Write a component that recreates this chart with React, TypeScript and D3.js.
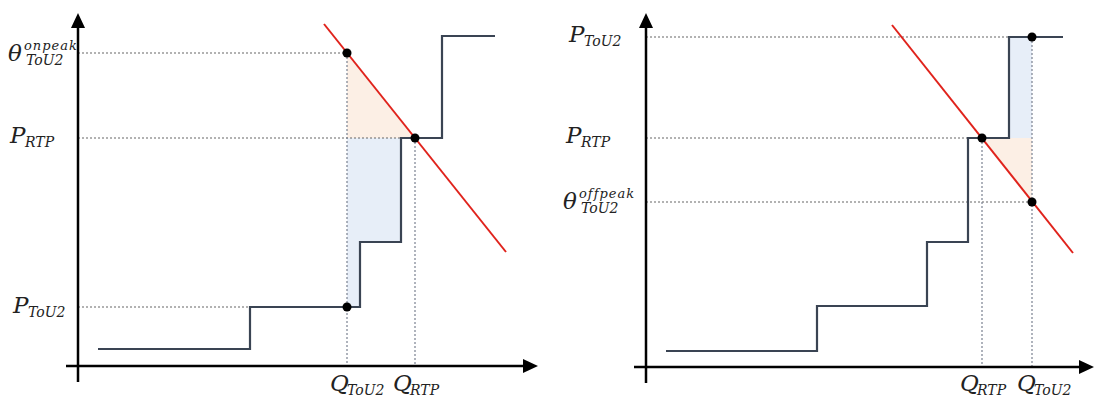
import React from "react";
import * as d3 from "d3";

// left panel (on-peak case), values in chart units
const leftStepQ = [2.0, 17.2, 28.2, 32.3, 36.4, 41.7];
const leftStepP = [1.7, 5.9, 12.4, 22.8, 33.0, 33.0];
const leftQ = { tou: 26.9, rtp: 33.7 };
const leftP = { tou: 5.9, rtp: 22.8, theta: 31.3 };
const leftDemandQ = [24.6, 42.8];
const leftDemandP = [34.2, 11.4];

// right panel (off-peak case)
const rightStepQ = [2.0, 17.1, 28.1, 32.2, 36.3, 41.7];
const rightStepP = [1.6, 6.1, 12.5, 22.9, 33.0, 33.0];
const rightQ = { tou: 38.6, rtp: 33.6 };
const rightP = { tou: 33.0, rtp: 22.9, theta: 16.5 };
const rightDemandQ = [24.6, 42.7];
const rightDemandP = [34.2, 11.4];

const FONT = "'DejaVu Serif', 'Liberation Serif', serif";

type Pt = [number, number];

function Label({ x, y, main, sub, sup, size = 23 }: any) {
  const small = 14;
  const mainW = main === "θ" ? 15 : main === "Q" ? 17 : 15;
  return (
    <text fontFamily={FONT} fontStyle="italic" fill="#222">
      <tspan x={x} y={y} fontSize={size}>{main}</tspan>
      {sup && (
        <tspan x={x + mainW + 1} y={y - 11} fontSize={13} letterSpacing={1}>{sup}</tspan>
      )}
      {sub && (
        <tspan x={x + mainW + (sup ? 3 : 0)} y={y + 4} fontSize={small}>{sub}</tspan>
      )}
    </text>
  );
}

function Panel({ origin, xMax, yMax, tip, stepQ, stepP, q, p, demandQ, demandP, offpeak }: any) {
  const x = d3.scaleLinear().domain([0, xMax]).range([origin[0], tip[0]]);
  const y = d3.scaleLinear().domain([0, yMax]).range([origin[1], tip[1]]);

  const stepLine = d3
    .line<Pt>()
    .x(d => x(d[0]))
    .y(d => y(d[1]))
    .curve(d3.curveStepAfter);
  const steps: Pt[] = stepQ.map((v: number, i: number) => [v, stepP[i]]);

  const poly = d3
    .line<Pt>()
    .x(d => x(d[0]))
    .y(d => y(d[1]));

  let blue: Pt[];
  let orange: Pt[];
  if (!offpeak) {
    blue = [
      [q.tou, p.rtp],
      [stepQ[3], p.rtp],
      [stepQ[3], stepP[2]],
      [stepQ[2], stepP[2]],
      [stepQ[2], p.tou],
      [q.tou, p.tou],
    ];
    orange = [
      [q.tou, p.theta],
      [q.tou, p.rtp],
      [q.rtp, p.rtp],
    ];
  } else {
    blue = [
      [stepQ[4], p.tou],
      [q.tou, p.tou],
      [q.tou, p.rtp],
      [stepQ[4], p.rtp],
    ];
    orange = [
      [q.rtp, p.rtp],
      [q.tou, p.rtp],
      [q.tou, p.theta],
    ];
  }

  const hDash = (val: number, toQ: number) => (
    <line
      x1={x(0)}
      x2={x(toQ)}
      y1={y(val)}
      y2={y(val)}
      stroke="#666"
      strokeWidth={1.2}
      strokeDasharray="2,2"
    />
  );
  const vDash = (qv: number, fromP: number) => (
    <line
      x1={x(qv)}
      x2={x(qv)}
      y1={y(fromP)}
      y2={y(0)}
      stroke="#7a8190"
      strokeWidth={1.2}
      strokeDasharray="2,2"
    />
  );

  const dots: Pt[] = offpeak
    ? [
        [q.rtp, p.rtp],
        [q.tou, p.tou],
        [q.tou, p.theta],
      ]
    : [
        [q.tou, p.theta],
        [q.rtp, p.rtp],
        [q.tou, p.tou],
      ];

  const ox = x(0);
  const oy = y(0);

  return (
    <g>
      <path d={poly(blue) + "Z"} fill="#e7eef8" />
      <path d={poly(orange) + "Z"} fill="#fcefe5" />

      {offpeak ? (
        <>
          {hDash(p.tou, stepQ[4])}
          {hDash(p.rtp, q.rtp)}
          {hDash(p.theta, q.tou)}
          {vDash(q.rtp, p.rtp)}
          {vDash(q.tou, p.tou)}
        </>
      ) : (
        <>
          {hDash(p.theta, q.tou)}
          {hDash(p.rtp, q.rtp)}
          {hDash(p.tou, stepQ[1])}
          {vDash(q.tou, p.theta)}
          {vDash(q.rtp, p.rtp)}
        </>
      )}

      <path d={stepLine(steps) || ""} fill="none" stroke="#3a4453" strokeWidth={2.2} />
      <line
        x1={x(demandQ[0])}
        y1={y(demandP[0])}
        x2={x(demandQ[1])}
        y2={y(demandP[1])}
        stroke="#e0231c"
        strokeWidth={2}
      />

      {/* axes */}
      <line x1={ox} x2={ox} y1={oy + 16} y2={tip[1] + 14} stroke="#000" strokeWidth={2.5} />
      <path d={`M${ox},${tip[1]} L${ox - 7},${tip[1] + 15} L${ox + 7},${tip[1] + 15} Z`} fill="#000" />
      <line x1={ox - 12} x2={tip[0] - 13} y1={oy} y2={oy} stroke="#000" strokeWidth={2.5} />
      <path d={`M${tip[0]},${oy} L${tip[0] - 15},${oy - 7} L${tip[0] - 15},${oy + 7} Z`} fill="#000" />

      {dots.map((d, i) => (
        <circle key={i} cx={x(d[0])} cy={y(d[1])} r={4.5} fill="#000" />
      ))}
    </g>
  );
}

export default function App() {
  return (
    <svg
      width={1096}
      height={398}
      style={{ position: "absolute", left: 0, top: 0, background: "#fff" }}
    >
      <Panel
        origin={[78, 366]}
        tip={[538, 13]}
        xMax={46}
        yMax={35.3}
        stepQ={leftStepQ}
        stepP={leftStepP}
        q={leftQ}
        p={leftP}
        demandQ={leftDemandQ}
        demandP={leftDemandP}
        offpeak={false}
      />
      <Panel
        origin={[646, 367]}
        tip={[1094, 13]}
        xMax={44.8}
        yMax={35.4}
        stepQ={rightStepQ}
        stepP={rightStepP}
        q={rightQ}
        p={rightP}
        demandQ={rightDemandQ}
        demandP={rightDemandP}
        offpeak={true}
      />

      {/* left labels */}
      <Label x={8} y={61} main="θ" sup="onpeak" sub="ToU2" />
      <Label x={10} y={143} main="P" sub="RTP" />
      <Label x={13} y={313} main="P" sub="ToU2" />
      <Label x={330} y={391} main="Q" sub="ToU2" />
      <Label x={393} y={391} main="Q" sub="RTP" />

      {/* right labels */}
      <Label x={569} y={42} main="P" sub="ToU2" />
      <Label x={566} y={143} main="P" sub="RTP" />
      <Label x={563} y={209} main="θ" sup="offpeak" sub="ToU2" />
      <Label x={960} y={391} main="Q" sub="RTP" />
      <Label x={1017} y={391} main="Q" sub="ToU2" />
    </svg>
  );
}
